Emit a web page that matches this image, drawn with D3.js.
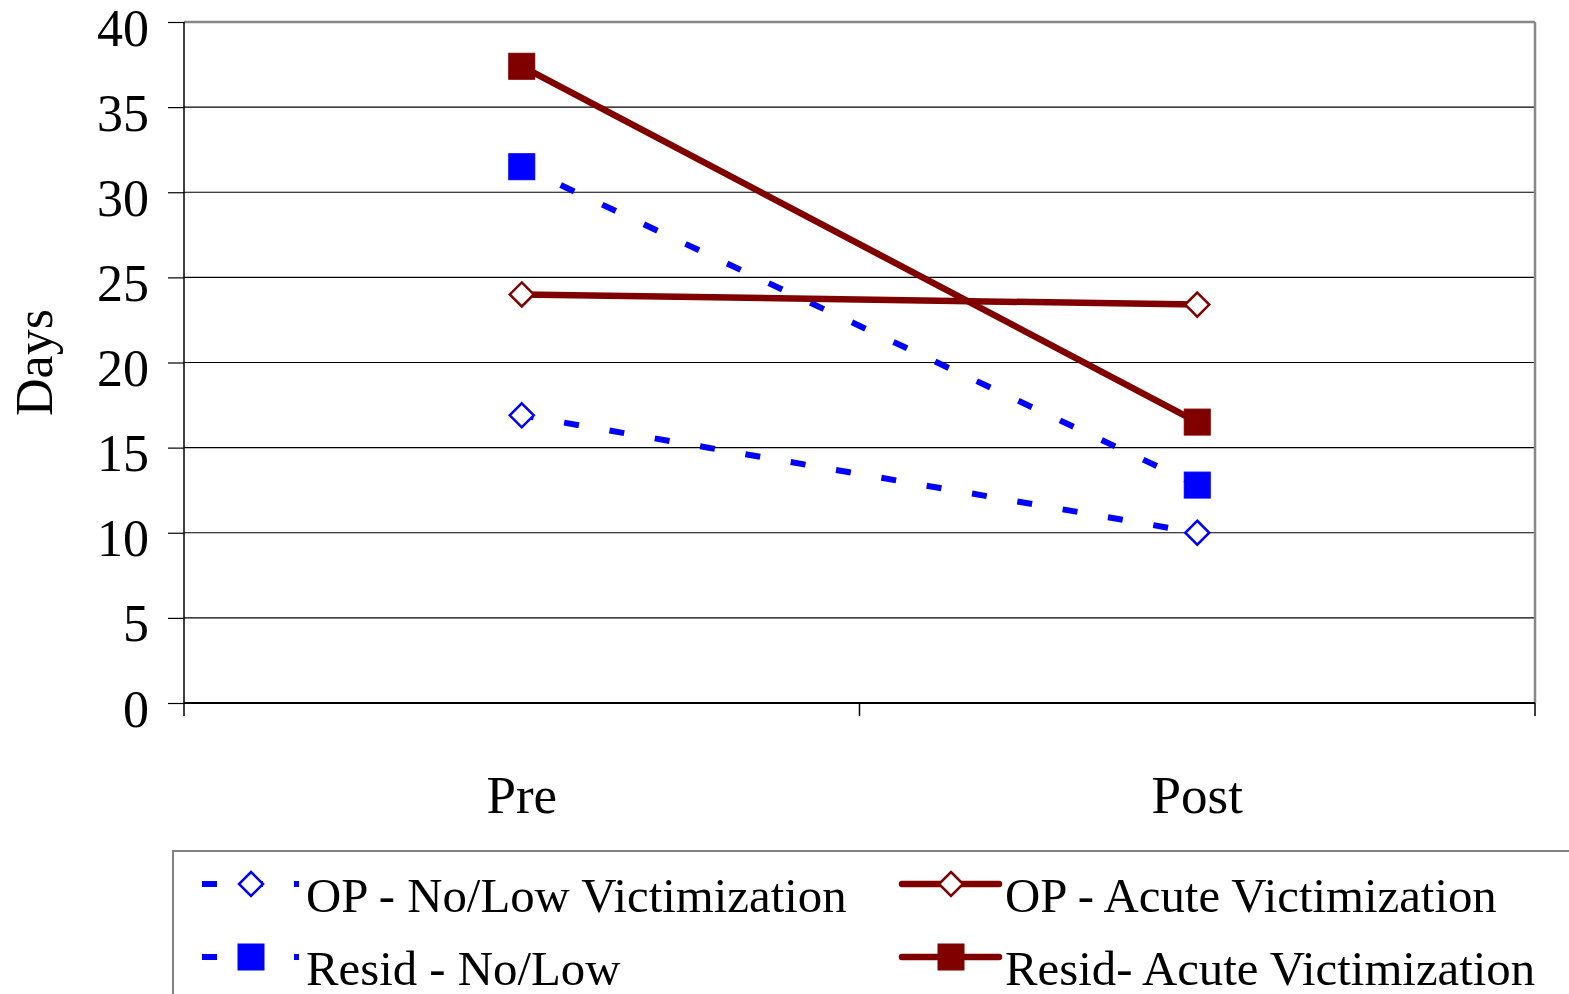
<!DOCTYPE html>
<html><head><meta charset="utf-8">
<script src="https://cdn.jsdelivr.net/npm/d3@7"></script>
<style>
html,body{margin:0;padding:0;background:#fff;}
svg{display:block;font-family:"Liberation Serif","Times New Roman",serif;}
</style></head>
<body>
<svg id="c" width="1569" height="994"></svg>
<script>
const categories = ["Pre", "Post"];
const yTicks = [0, 5, 10, 15, 20, 25, 30, 35, 40];
const seriesNames = ["OP - No/Low Victimization", "Resid - No/Low", "OP - Acute Victimization", "Resid- Acute Victimization"];
const opNoLow = [16.9, 10.0];
const residNoLow = [31.5, 12.8];
const opAcute = [24.0, 23.4];
const residAcute = [37.4, 16.5];

const svg = d3.select("#c");
const L = 184, R = 1535, T = 22, B = 703;
const x = d3.scaleBand().domain(categories).range([L, R]).padding(0);
const y = d3.scaleLinear().domain([0, 40]).range([B, T]);
const cx = d => x(d) + x.bandwidth() / 2;

// gridlines
svg.append("g").selectAll("line").data(yTicks.filter(t => t > 0 && t < 40)).join("line")
  .attr("x1", L).attr("x2", R).attr("y1", d => y(d)).attr("y2", d => y(d))
  .attr("stroke", "#000").attr("stroke-width", 1.2);

// plot border top & right (gray)
svg.append("line").attr("x1", L).attr("x2", R).attr("y1", T).attr("y2", T).attr("stroke", "#888").attr("stroke-width", 2.5);
svg.append("line").attr("x1", R).attr("x2", R).attr("y1", T).attr("y2", B).attr("stroke", "#888").attr("stroke-width", 2.5);

// y axis
const yAxis = svg.append("g").attr("transform", `translate(${L},0)`)
  .call(d3.axisLeft(y).tickValues(yTicks).tickSize(16).tickPadding(0).tickFormat(d3.format("d")));
yAxis.select(".domain").attr("stroke", "#000").attr("stroke-width", 1.5).attr("d", `M0,${T}V${B}`);
yAxis.selectAll(".tick line").attr("stroke", "#000").attr("stroke-width", 1.2);
yAxis.selectAll(".tick text").attr("x", -35).attr("dy", null).attr("y", 23)
  .attr("font-size", 52).attr("fill", "#000").attr("font-family", "Liberation Serif").attr("text-anchor", "end");

// x axis
const xAxis = svg.append("g").attr("transform", `translate(0,${B})`)
  .call(d3.axisBottom(x).tickSize(0).tickPadding(0));
xAxis.select(".domain").attr("stroke", "#000").attr("stroke-width", 2).attr("d", `M${L},0H${R}`);
xAxis.selectAll(".tick text").attr("y", 110).attr("dy", null)
  .attr("font-size", 53).attr("fill", "#000").attr("font-family", "Liberation Serif");
// boundary ticks between categories
const bounds = [x(categories[0]), x(categories[1]), x(categories[1]) + x.bandwidth()];
svg.append("g").selectAll("line").data(bounds).join("line")
  .attr("x1", d => d).attr("x2", d => d).attr("y1", B).attr("y2", B + 13)
  .attr("stroke", "#000").attr("stroke-width", 1.5);

// y title
svg.append("text").attr("transform", `translate(52,${(T + B) / 2}) rotate(-90)`)
  .attr("text-anchor", "middle").attr("font-size", 52).text("Days");

const blue = "#0000ff", red = "#800000";
const series = [
  {name: seriesNames[0], vals: opNoLow, color: blue, dash: true, marker: "diamond"},
  {name: seriesNames[1], vals: residNoLow, color: blue, dash: true, marker: "square"},
  {name: seriesNames[2], vals: opAcute, color: red, dash: false, marker: "diamond"},
  {name: seriesNames[3], vals: residAcute, color: red, dash: false, marker: "square"}
];
const line = d3.line().x((d, i) => cx(categories[i])).y(d => y(d));

function drawMarker(g, type, color, px, py) {
  if (type === "square") {
    g.append("rect").attr("x", px - 13).attr("y", py - 13).attr("width", 26).attr("height", 26)
      .attr("fill", color).attr("stroke", color).attr("stroke-width", 1);
  } else {
    const s = 12;
    g.append("path").attr("d", `M${px},${py - s}L${px + s},${py}L${px},${py + s}L${px - s},${py}Z`)
      .attr("fill", "#fff").attr("stroke", color).attr("stroke-width", 2.5);
  }
}

const plot = svg.append("g");
series.forEach(s => {
  const p = plot.append("path").datum(s.vals).attr("d", line)
    .attr("fill", "none").attr("stroke", s.color).attr("stroke-width", s.dash ? 6 : 6.5);
  if (s.dash) p.attr("stroke-dasharray", "15,31").attr("stroke-dashoffset", 3);
  else p.attr("stroke-linecap", "round");
});
series.forEach(s => {
  s.vals.forEach((v, i) => drawMarker(plot, s.marker, s.color, cx(categories[i]), y(v)));
});

// legend
svg.append("rect").attr("x", 173).attr("y", 851).attr("width", 1500).attr("height", 300)
  .attr("fill", "none").attr("stroke", "#808080").attr("stroke-width", 2);
const legPos = [
  {lx: 202, tx: 306, cy: 884},
  {lx: 202, tx: 306, cy: 957},
  {lx: 902, tx: 1005, cy: 884},
  {lx: 902, tx: 1005, cy: 957}
];
const leg = svg.append("g");
series.forEach((s, i) => {
  const pos = legPos[i];
  const ln = leg.append("line").attr("x1", pos.lx).attr("x2", pos.lx + 97).attr("y1", pos.cy).attr("y2", pos.cy)
    .attr("stroke", s.color).attr("stroke-width", s.dash ? 6 : 6.5);
  if (s.dash) ln.attr("stroke-dasharray", "15,31");
  else ln.attr("stroke-linecap", "round");
  drawMarker(leg, s.marker, s.color, pos.lx + 49, pos.cy);
  leg.append("text").attr("x", pos.tx).attr("y", pos.cy + 28).attr("font-size", 48.8).text(s.name);
});
</script>
</body></html>
